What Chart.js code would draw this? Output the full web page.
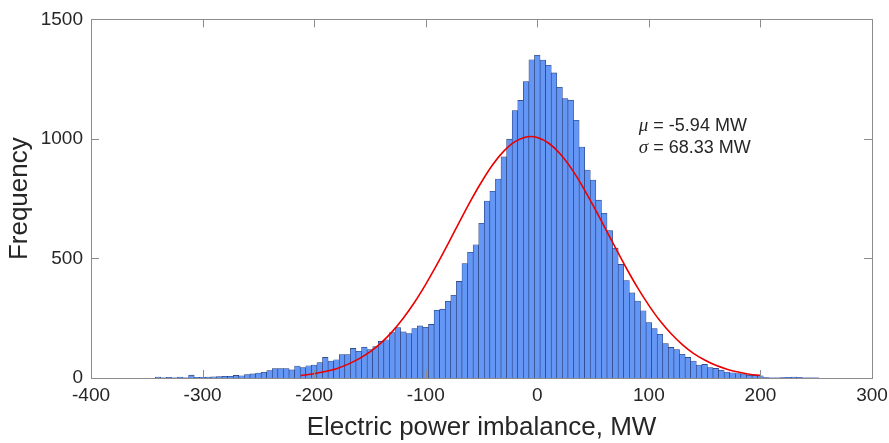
<!DOCTYPE html>
<html>
<head>
<meta charset="utf-8">
<script src="https://cdn.jsdelivr.net/npm/chart.js@4.4.1/dist/chart.umd.min.js"></script>
<style>
  html, body { margin: 0; padding: 0; background: #fff; }
  #wrap { width: 889px; height: 443px; }
</style>
</head>
<body>
<div id="wrap"><canvas id="hist"></canvas></div>
<script>
// histogram bins (MW, centre of each 5 MW bin) and counts
const binCenters = [
  -340, -335, -330, -325, -320, -315, -310, -305, -300, -295,
  -290, -285, -280, -275, -270, -265, -260, -255, -250, -245,
  -240, -235, -230, -225, -220, -215, -210, -205, -200, -195,
  -190, -185, -180, -175, -170, -165, -160, -155, -150, -145,
  -140, -135, -130, -125, -120, -115, -110, -105, -100, -95,
  -90, -85, -80, -75, -70, -65, -60, -55, -50, -45,
  -40, -35, -30, -25, -20, -15, -10, -5, 0, 5,
  10, 15, 20, 25, 30, 35, 40, 45, 50, 55,
  60, 65, 70, 75, 80, 85, 90, 95, 100, 105,
  110, 115, 120, 125, 130, 135, 140, 145, 150, 155,
  160, 165, 170, 175, 180, 185, 190, 195, 200, 205,
  210, 215, 220, 225, 230, 235, 240, 245, 250
];
const binCounts = [
  4, 1, 3, 1, 4, 1, 12, 3, 3, 4,
  5, 6, 7, 7, 11, 9, 14, 17, 21, 24,
  31, 39, 39, 39, 34, 50, 44, 51, 54, 64,
  86, 71, 76, 98, 98, 124, 112, 129, 119, 131,
  153, 160, 190, 211, 193, 186, 207, 218, 212, 224,
  283, 288, 321, 346, 404, 479, 526, 557, 647, 740,
  781, 832, 925, 999, 1119, 1161, 1240, 1331, 1350, 1330,
  1308, 1276, 1216, 1169, 1162, 1078, 966, 870, 828, 744,
  689, 617, 543, 475, 408, 356, 322, 281, 232, 207,
  183, 144, 128, 119, 99, 86, 71, 54, 57, 44,
  40, 33, 25, 22, 19, 17, 12, 11, 9, 2,
  1, 1, 2, 3, 4, 3, 1, 1, 1
];

// fitted normal curve
const fitX = [-212, -200, -190, -180, -170, -160, -150, -140, -130, -120, -110, -100,
  -90, -80, -70, -60, -50, -40, -30, -20, -10, -6, 0, 10, 20, 30, 40, 50, 60, 70,
  80, 90, 100, 110, 120, 130, 140, 150, 160, 170, 180, 190, 200];
const fitY = [10, 18, 27, 39, 57, 80, 109, 147, 194, 251, 317, 392,
  474, 561, 651, 739, 820, 892, 949, 989, 1008, 1010, 1006, 983, 940, 880, 806, 722, 634, 545,
  458, 377, 304, 239, 185, 140, 103, 75, 53, 37, 25, 16, 11];

const xTicks = [-400, -300, -200, -100, 0, 100, 200, 300];
const yTicks = [0, 500, 1000, 1500];

const fitText = [['\u03bc', ' = -5.94 MW'], ['\u03c3', ' = 68.33 MW']];
const fitTextX = 91;
const fitTextY = [1054, 964];

const frame = {
  id: 'frame',
  afterDraw(chart) {
    const { ctx, chartArea: a, scales } = chart;
    ctx.save();
    ctx.strokeStyle = '#8c8c8c';
    ctx.lineWidth = 1;
    ctx.strokeRect(Math.round(a.left) + 0.5, Math.round(a.top) + 0.5,
      Math.round(a.right - a.left), Math.round(a.bottom - a.top));
    ctx.beginPath();
    xTicks.slice(1, -1).forEach(v => {
      const px = Math.round(scales.x.getPixelForValue(v)) + 0.5;
      ctx.moveTo(px, a.bottom); ctx.lineTo(px, a.bottom - 8);
      ctx.moveTo(px, a.top); ctx.lineTo(px, a.top + 8);
    });
    yTicks.slice(1, -1).forEach(v => {
      const py = Math.round(scales.y.getPixelForValue(v)) + 0.5;
      ctx.moveTo(a.left, py); ctx.lineTo(a.left + 8, py);
      ctx.moveTo(a.right, py); ctx.lineTo(a.right - 8, py);
    });
    ctx.stroke();

    // y axis title
    ctx.fillStyle = '#262626';
    ctx.font = '26px "Liberation Sans", Arial, sans-serif';
    ctx.textAlign = 'center';
    ctx.textBaseline = 'middle';
    ctx.translate(20, (a.top + a.bottom) / 2);
    ctx.rotate(-Math.PI / 2);
    ctx.fillText('Frequency', 0, 0);
    ctx.setTransform(1, 0, 0, 1, 0, 0);

    // fit parameters
    ctx.textAlign = 'left';
    const tx = scales.x.getPixelForValue(fitTextX);
    fitText.forEach((parts, i) => {
      const ty = scales.y.getPixelForValue(fitTextY[i]);
      ctx.font = 'italic 19px "Liberation Serif", serif';
      ctx.fillText(parts[0], tx, ty);
      const w = ctx.measureText(parts[0]).width;
      ctx.font = '18px "Liberation Sans", Arial, sans-serif';
      ctx.fillText(parts[1], tx + w, ty);
    });
    ctx.restore();
  }
};

new Chart(document.getElementById('hist'), {
  type: 'bar',
  data: {
    datasets: [{
      type: 'line',
      data: fitX.map((x, i) => ({ x: x, y: fitY[i] })),
      borderColor: 'rgb(235, 0, 0)',
      borderWidth: 1.6,
      pointRadius: 0,
      cubicInterpolationMode: 'monotone',
      fill: false,
      order: 0
    }, {
      data: binCenters.map((x, i) => ({ x: x, y: binCounts[i] })),
      backgroundColor: 'rgb(100, 150, 245)',
      borderColor: 'rgb(35, 55, 110)',
      borderWidth: 0.6,
      barPercentage: 1,
      categoryPercentage: 1,
      grouped: false,
      order: 1
    }]
  },
  options: {
    responsive: true,
    maintainAspectRatio: false,
    animation: false,
    events: [],
    layout: { padding: { top: 17, right: 17, left: 0, bottom: 0 } },
    plugins: { legend: { display: false }, tooltip: { enabled: false } },
    scales: {
      x: {
        type: 'linear',
        min: -400,
        max: 300,
        offset: false,
        grid: { display: false, drawTicks: false, offset: false },
        border: { display: false },
        afterBuildTicks: s => { s.ticks = xTicks.map(v => ({ value: v })); },
        afterFit: s => {
          s.height = 65;
          s.paddingLeft = 0;
          s.paddingRight = 0;
        },
        ticks: {
          autoSkip: false,
          maxRotation: 0,
          padding: 6,
          color: '#262626',
          callback: v => String(v),
          font: { family: '"Liberation Sans", Arial, sans-serif', size: 19 }
        },
        title: {
          display: true,
          text: 'Electric power imbalance, MW',
          color: '#262626',
          padding: { top: 0, bottom: 0 },
          font: { family: '"Liberation Sans", Arial, sans-serif', size: 26 }
        }
      },
      y: {
        min: 0,
        max: 1500,
        grid: { display: false, drawTicks: false },
        border: { display: false },
        afterBuildTicks: s => { s.ticks = yTicks.map(v => ({ value: v })); },
        afterFit: s => { s.width = 91; },
        ticks: {
          padding: 8,
          color: '#262626',
          callback: v => String(v),
          font: { family: '"Liberation Sans", Arial, sans-serif', size: 19 }
        }
      }
    }
  },
  plugins: [frame]
});
</script>
</body>
</html>
